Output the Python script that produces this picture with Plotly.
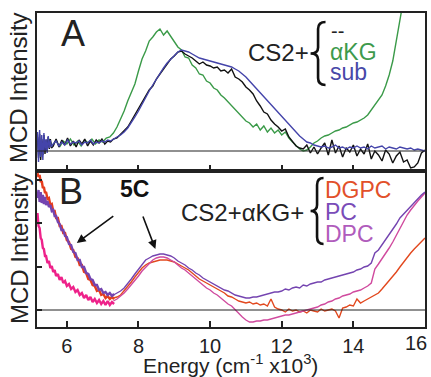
import plotly.graph_objects as go
from plotly.subplots import make_subplots

# ---------------- Panel A data (energy in 10^3 cm-1, MCD in arbitrary units) ----------------
cs2_e = [5.18, 5.21, 5.24, 5.27, 5.30, 5.33, 5.36, 5.39, 5.42, 5.45, 5.48, 5.51, 5.54, 5.57,
         5.62, 5.70, 5.78, 5.86, 5.94, 6.02, 6.10, 6.18, 6.26, 6.34, 6.42, 6.50, 6.58, 6.66,
         6.74, 6.82, 6.90, 6.98, 7.06, 7.14, 7.22, 7.30,
         7.40, 7.50, 7.60, 7.70, 7.80, 7.90, 8.00, 8.10, 8.20, 8.30, 8.40, 8.50, 8.60, 8.70,
         8.80, 8.90, 9.00, 9.10, 9.20, 9.30, 9.40, 9.50, 9.60, 9.70, 9.80, 9.90, 10.00, 10.10,
         10.20, 10.30, 10.40, 10.50, 10.60, 10.70, 10.80, 10.90, 11.00, 11.10, 11.20, 11.30,
         11.40, 11.50, 11.60, 11.70, 11.80, 11.90, 12.00, 12.10, 12.20, 12.30, 12.40, 12.50,
         12.60, 12.70, 12.80, 12.90, 13.00, 13.10, 13.20, 13.30, 13.40, 13.50, 13.60, 13.70,
         13.80, 13.90, 14.00, 14.10, 14.20, 14.30, 14.40, 14.50, 14.60, 14.70, 14.80, 14.90,
         15.00, 15.10, 15.20, 15.30, 15.40, 15.50, 15.60, 15.70, 15.80, 15.90, 16.00]
cs2_v = [14, -7, 17, -9, 12, -4, 16, -3, 11, 0, 14, 2, 12, 3,
         5, 12, 4, 11, 6, 13, 5, 10, 4, 11, 7, 12, 5, 10, 6, 11, 8, 12, 7, 10, 9, 12,
         13, 17, 20, 24, 30, 36, 42, 49, 54, 61, 65, 72, 77, 82, 87, 92, 95, 99, 100, 97,
         95, 93, 90, 87, 89, 86, 85, 83, 84, 80, 81, 78, 82, 74, 72, 69, 64, 61, 57, 50,
         45, 39, 37, 31, 27, 24, 20, 22, 14, 9, 5, 3,
         2, 6, -2, 4, -3, 3, 8, -4, 11, -2, 5, -6, 3, -1, 6, -5, 2, -3, 7, -8, 0, -4, -10, 1,
         -3, -12, -5, -1, -11, -9, -17, -16, -12, -2, 1]

sub_e = cs2_e
sub_v = [19, -11, 21, -6, 16, -9, 18, 0, 12, -2, 15, 3, 11, 4,
         7, 10, 5, 9, 6, 11, 7, 9, 8, 10, 6, 9, 8, 11, 7, 9, 8, 10, 9, 11, 10, 12,
         14, 16, 19, 23, 28, 34, 40, 47, 53, 60, 66, 72, 78, 83, 88, 92, 96, 99, 101, 100,
         99, 97, 95, 93, 92, 91, 90, 89, 88, 87, 86, 85, 84, 82, 80, 77, 74, 70, 66, 62,
         58, 54, 50, 46, 42, 38, 34, 30, 26, 22, 18, 15,
         12, 9, 8, 6, 5, 4, 5, 3, 4, 6, 3, 4, 2, 4, 3, 5, 3, 4, 2, 5, 3, 4, 5, 2,
         4, 3, 2, 4, 3, 2, 3, 1, 2, 1, 0]

akg_e = [5.4, 5.5, 5.6, 5.7, 5.8, 5.9, 6.0, 6.1, 6.2, 6.3, 6.4, 6.5, 6.6, 6.7, 6.8, 6.9, 7.0, 7.1,
         7.2, 7.3, 7.4, 7.5, 7.6, 7.7, 7.8, 7.9, 8.0, 8.1, 8.2, 8.3, 8.4, 8.5, 8.6, 8.7, 8.8, 8.9,
         9.0, 9.1, 9.2, 9.3, 9.4, 9.5, 9.6, 9.7, 9.8, 9.9, 10.0, 10.1, 10.2, 10.3, 10.4, 10.5,
         10.6, 10.7, 10.8, 10.9, 11.0, 11.1, 11.2, 11.3, 11.4, 11.5, 11.6, 11.7, 11.8, 11.9,
         12.0, 12.1, 12.2, 12.3, 12.4, 12.5, 12.6, 12.7, 12.8, 12.9, 13.0, 13.1, 13.2, 13.3,
         13.4, 13.5, 13.6, 13.7, 13.8, 13.9, 14.0, 14.1, 14.2, 14.3, 14.4, 14.5, 14.6, 14.7,
         14.8, 14.9, 15.0, 15.1, 15.2, 15.3, 15.4, 15.5]
akg_v = [6, 12, 5, 11, 4, 10, 7, 12, 6, 10, 5, 11, 8, 12, 7, 11, 9, 13,
         14, 18, 24, 32, 40, 50, 58, 67, 80, 92, 100, 110, 114, 119, 122, 116, 120, 115,
         110, 104, 101, 94, 93, 86, 83, 77, 76, 70, 68, 63, 61, 56, 53, 49,
         45, 42, 37, 34, 30, 28, 24, 27, 21, 25, 19, 23, 18, 21,
         16, 19, 13, 9, 5, 2, 0, 1, 4, 8, 10, 13, 15, 16,
         18, 20, 21, 23, 24, 26, 28, 29, 31, 33, 36, 41, 46, 51,
         56, 65, 76, 90, 108, 128, 150, 172]

# ---------------- Panel B data ----------------
nir_e = [5.18, 5.21, 5.24, 5.27, 5.30, 5.33, 5.36, 5.39, 5.42, 5.46, 5.50, 5.54, 5.58, 5.62,
         5.66, 5.70, 5.75, 5.80, 5.85, 5.90, 5.95, 6.00, 6.06, 6.12, 6.18, 6.24, 6.30, 6.36,
         6.42, 6.48, 6.54, 6.60, 6.66, 6.72, 6.78, 6.84, 6.90, 6.96, 7.02, 7.08, 7.14, 7.20,
         7.26, 7.32]
dgpc_nir = [137, 133, 135, 128, 129, 122, 123, 117, 118, 111, 112, 105, 106, 99,
            99, 92, 92, 84, 84, 77, 77, 70, 68, 61, 60, 53, 52, 45,
            45, 38, 37, 31, 30, 25, 24, 19, 20, 15, 16, 12, 14, 11, 13, 11]
pc_nir = [112, 120, 108, 118, 107, 115, 106, 113, 105, 109, 103, 105, 99, 100,
          94, 94, 88, 86, 80, 80, 74, 73, 66, 65, 58, 57, 50, 50,
          43, 43, 37, 36, 31, 30, 25, 25, 20, 21, 17, 18, 15, 17, 14, 16]
dpc_nir = [97, 84, 82, 72, 70, 62, 61, 54, 54, 47, 49, 42, 44, 38,
           40, 34, 36, 30, 33, 27, 29, 24, 26, 21, 23, 18, 20, 15,
           17, 12, 15, 10, 13, 8, 11, 7, 10, 6, 9, 5, 9, 5, 8, 6]

vis_e = [7.3, 7.4, 7.5, 7.6, 7.7, 7.8, 7.9, 8.0, 8.1, 8.2, 8.3, 8.4, 8.5, 8.6, 8.7, 8.8, 8.9,
         9.0, 9.1, 9.2, 9.3, 9.4, 9.5, 9.6, 9.7, 9.8, 9.9, 10.0, 10.1, 10.2, 10.3, 10.4, 10.5,
         10.6, 10.7, 10.8, 10.9, 11.0, 11.1, 11.2, 11.3, 11.4, 11.5, 11.6, 11.7, 11.8, 11.9,
         12.0, 12.1, 12.2, 12.3, 12.4, 12.5, 12.6, 12.7, 12.8, 12.9, 13.0, 13.1, 13.2, 13.3,
         13.4, 13.5, 13.6, 13.7, 13.8, 13.9, 14.0, 14.1, 14.2, 14.3, 14.4, 14.5, 14.6, 14.7,
         14.8, 14.9, 15.0, 15.1, 15.2, 15.3, 15.4, 15.5, 15.6, 15.7, 15.8, 15.9, 16.0]
dgpc_vis = [12, 13, 15, 19, 23, 28, 33, 38, 42, 45, 47, 48, 49, 50, 50, 50, 49,
            48, 46, 44, 42, 40, 37, 34, 31, 29, 27, 25, 23, 21, 19, 17, 14,
            13, 11, 9, 8, 7, 8, 6, 7, 5, 6, 4, 11, 3, 1,
            0, -2, 1, -1, 0, -2, -1, -3, 0, -1, -2, 1, -1, 0,
            1, -1, -8, 2, 3, 5, 4, 11, 7, 9, 11, 13, 15, 17,
            21, 25, 29, 33, 38, 43, 48, 53, 57, 61, 65, 69, 72]
pc_vis = [15, 17, 19, 22, 26, 31, 36, 41, 46, 50, 52, 54, 55, 56, 56, 55, 54,
          52, 49, 47, 45, 42, 40, 37, 35, 32, 30, 28, 26, 24, 22, 20, 19,
          17, 15, 14, 13, 12, 12, 13, 13, 14, 15, 16, 17, 18, 18,
          19, 21, 20, 22, 23, 22, 25, 24, 26, 27, 28, 28, 30, 31,
          32, 33, 34, 35, 36, 37, 38, 40, 41, 43, 44, 47, 57, 60,
          65, 70, 75, 80, 86, 92, 96, 100, 104, 108, 111, 115, 118]
dpc_vis = [9, 11, 14, 17, 21, 25, 30, 34, 39, 43, 47, 50, 52, 53, 53, 52, 50,
           48, 45, 42, 40, 37, 34, 31, 28, 25, 22, 20, 17, 15, 12, 9, 6,
           4, 0, -3, -7, -10, -12, -12, -11, -11, -10, -10, -9, -8, -7,
           -6, -5, -5, -4, -3, -2, -1, 0, 1, 2, 3, 5, 6, 8,
           9, 11, 12, 14, 15, 16, 18, 19, 20, 22, 24, 27, 41, 46,
           51, 56, 62, 68, 75, 82, 88, 95, 100, 105, 109, 113, 117]

x_ticks = [6, 8, 10, 12, 14, 16]
yB_ticks = [0, 43.5, 87, 130.5]

# ---------------- figure ----------------
W, H = 431, 377
ML, MR, MT, MB = 37, 4, 13, 50
PW, PH = W - ML - MR, H - MT - MB


def px(xp):
    return (xp - ML) / PW


def py(yp):
    return (H - MB - yp) / PH


FONT = "Liberation Sans, Arial, sans-serif"
INK = "#222222"

fig = make_subplots(rows=2, cols=1, shared_xaxes=True, vertical_spacing=0,
                    row_heights=[158, 156])

line_a = 1.4
fig.add_trace(go.Scatter(x=akg_e, y=akg_v, mode="lines", line=dict(color="#3a9a48", width=line_a)), 1, 1)
fig.add_trace(go.Scatter(x=cs2_e, y=cs2_v, mode="lines", line=dict(color="#111111", width=line_a)), 1, 1)
fig.add_trace(go.Scatter(x=sub_e, y=sub_v, mode="lines", line=dict(color="#4444aa", width=line_a)), 1, 1)

fig.add_trace(go.Scatter(x=nir_e, y=dpc_nir, mode="lines", line=dict(color="#ee228a", width=2.4)), 2, 1)
fig.add_trace(go.Scatter(x=nir_e, y=dgpc_nir, mode="lines", line=dict(color="#e63c1c", width=2.4)), 2, 1)
fig.add_trace(go.Scatter(x=nir_e, y=pc_nir, mode="lines", line=dict(color="#7444b0", width=2.4)), 2, 1)
fig.add_trace(go.Scatter(x=vis_e, y=dgpc_vis, mode="lines", line=dict(color="#e2481e", width=1.4)), 2, 1)
fig.add_trace(go.Scatter(x=vis_e, y=dpc_vis, mode="lines", line=dict(color="#d04a9e", width=1.4)), 2, 1)
fig.add_trace(go.Scatter(x=vis_e, y=pc_vis, mode="lines", line=dict(color="#7444b0", width=1.4)), 2, 1)

axis_common = dict(showline=True, mirror=True, linecolor=INK, linewidth=1.6,
                   showgrid=False, zeroline=False)
# last tick label (16) sits at the right edge; it is drawn as an annotation shifted inward
tick_text = [str(t) for t in x_ticks[:-1]] + [""]
fig.update_xaxes(range=[5.167, 16.0], tickvals=x_ticks, ticktext=tick_text, ticks="inside",
                 ticklen=6, tickwidth=1.5, tickcolor=INK, **axis_common)
fig.update_xaxes(showticklabels=False, row=1, col=1)
fig.update_xaxes(showticklabels=True, tickfont=dict(family=FONT, size=20, color=INK),
                 row=2, col=1)
fig.update_yaxes(range=[-20, 138], showticklabels=False, ticks="", row=1, col=1, **axis_common)
fig.update_yaxes(range=[-17, 139], showticklabels=False, tickvals=yB_ticks, ticks="inside",
                 ticklen=5, tickwidth=1.5, tickcolor=INK, row=2, col=1, **axis_common)

fig.add_shape(type="line", xref="x domain", yref="y", x0=0, x1=1, y0=0, y1=0,
              line=dict(color=INK, width=1.2))
fig.add_shape(type="line", xref="x2 domain", yref="y2", x0=0, x1=1, y0=0, y1=0,
              line=dict(color=INK, width=1.2))


def brace(xr, xl, yt, yb):
    xm = (xr + xl) / 2.0
    ym = (yt + yb) / 2.0
    pts = [
        "M %.4f,%.4f" % (px(xr), py(yt)),
        "Q %.4f,%.4f %.4f,%.4f" % (px(xm), py(yt), px(xm), py(yt + 7)),
        "L %.4f,%.4f" % (px(xm), py(ym - 6)),
        "Q %.4f,%.4f %.4f,%.4f" % (px(xm), py(ym), px(xl), py(ym)),
        "Q %.4f,%.4f %.4f,%.4f" % (px(xm), py(ym), px(xm), py(ym + 6)),
        "L %.4f,%.4f" % (px(xm), py(yb - 7)),
        "Q %.4f,%.4f %.4f,%.4f" % (px(xm), py(yb), px(xr), py(yb)),
    ]
    fig.add_shape(type="path", xref="paper", yref="paper", path=" ".join(pts),
                  line=dict(color="#111111", width=2.6))


brace(327, 312, 22, 85)
brace(325, 312, 178, 244)


def txt(s, x, y, size, color=INK, xanchor="center", bold=False, angle=0):
    fig.add_annotation(text=("<b>%s</b>" % s) if bold else s, x=px(x), y=py(y),
                       xref="paper", yref="paper", showarrow=False, xanchor=xanchor,
                       yanchor="middle", textangle=angle,
                       font=dict(family=FONT, size=size, color=color))


# right-most tick label
fig.add_annotation(text=str(x_ticks[-1]), x=x_ticks[-1], y=py(343), xref="x2", yref="paper",
                   showarrow=False, xanchor="right", xshift=4, yanchor="middle",
                   font=dict(family=FONT, size=20, color=INK))

txt("MCD Intensity", 19, 88, 24, angle=-90)
txt("MCD Intensity", 19, 249, 24, angle=-90)
txt("Energy (cm<sup>-1</sup> x10<sup>3</sup>)", 231, 364, 21)

txt("A", 73, 33, 36)
txt("B", 71, 191, 36)

txt("CS2+", 280, 53, 24)
txt("--", 331, 31, 20, xanchor="left")
txt("αKG", 329, 52, 23, color="#3d9a4c", xanchor="left")
txt("sub", 329, 72, 23, color="#4848a8", xanchor="left")

txt("CS2+αKG+", 244, 212, 24)
txt("DGPC", 324, 190, 23, color="#e2502a", xanchor="left")
txt("PC", 324, 212, 23, color="#7a4cb8", xanchor="left")
txt("DPC", 324, 234, 23, color="#b05cbc", xanchor="left")

txt("5C", 135, 189, 23, color="#111111", bold=True)

for hx, hy, tx, ty in [(77, 243, 115, 215), (156, 249, 143, 215)]:
    fig.add_annotation(text="", x=px(hx), y=py(hy), xref="paper", yref="paper",
                       ax=tx - hx, ay=ty - hy, showarrow=True, arrowhead=2, arrowsize=1.1,
                       arrowwidth=1.6, arrowcolor="#111111", standoff=0)

fig.update_layout(width=W, height=H, margin=dict(l=ML, r=MR, t=MT, b=MB),
                  plot_bgcolor="white", paper_bgcolor="white", showlegend=False)

fig.write_html("out.html")
